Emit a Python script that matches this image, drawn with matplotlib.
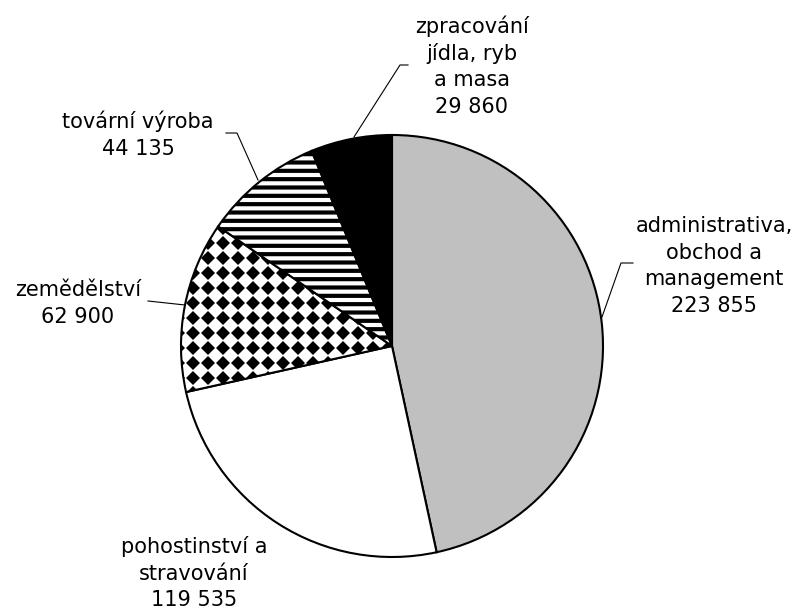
import numpy as np
import matplotlib.pyplot as plt

categories = ["administrativa,\nobchod a\nmanagement", "pohostinství a\nstravování",
              "zemědělství", "tovární výroba", "zpracování\njídla, ryb\na masa"]
values = [223855, 119535, 62900, 44135, 29860]

H = 610


def py(y):
    # pixel row (from top) -> data y
    return H - y


if __name__ == "__main__":
    plt.rcParams['hatch.linewidth'] = 3.0
    plt.rcParams['font.family'] = 'DejaVu Sans'

    fig = plt.figure(figsize=(8.09, 6.10), dpi=100)
    ax = fig.add_axes([0, 0, 1, 1])

    colors = ['#c0c0c0', 'white', 'white', 'white', 'black']
    wedges, _ = ax.pie(values, colors=colors, startangle=90, counterclock=False,
                       center=(392, py(346)), radius=211,
                       wedgeprops=dict(edgecolor='black', linewidth=1.5))
    ax.set_xlim(0, 809)
    ax.set_ylim(0, H)
    ax.set_aspect('equal')
    ax.axis('off')

    # horizontal stripes
    wedges[3].set_hatch('--')

    # black diamond checks
    gx, gy = np.meshgrid(np.arange(163, 400, 15), np.arange(py(408), py(198), 15))
    dots, = ax.plot(gx.ravel(), gy.ravel(), 'D', color='black', markersize=7,
                    markeredgewidth=0)
    dots.set_clip_path(wedges[2])
    wedges[2].set_zorder(dots.get_zorder() - 1)

    # labels: (center x, first baseline, leader points)
    label_pos = [
        (714, 232, [(602, 317), (621, 263), (633, 263)]),
        (194, 553, None),
        (78, 296, [(148, 301), (185, 305)]),
        (138, 128, [(226, 133), (237, 133), (258, 180)]),
        (472, 33, [(354, 137), (400, 65), (408, 65)]),
    ]
    for cat, val, (cx, by, lead) in zip(categories, values, label_pos):
        lines = cat.split("\n") + [f"{val:,}".replace(",", " ")]
        for i, ln in enumerate(lines):
            ax.text(cx, py(by + i * 26.7), ln, ha='center', va='baseline',
                    fontsize=15, color='black')
        if lead:
            xs, ys = zip(*lead)
            ax.plot(xs, [py(y) for y in ys], color='black', linewidth=0.8)

    fig.savefig('out.png', dpi=100)
